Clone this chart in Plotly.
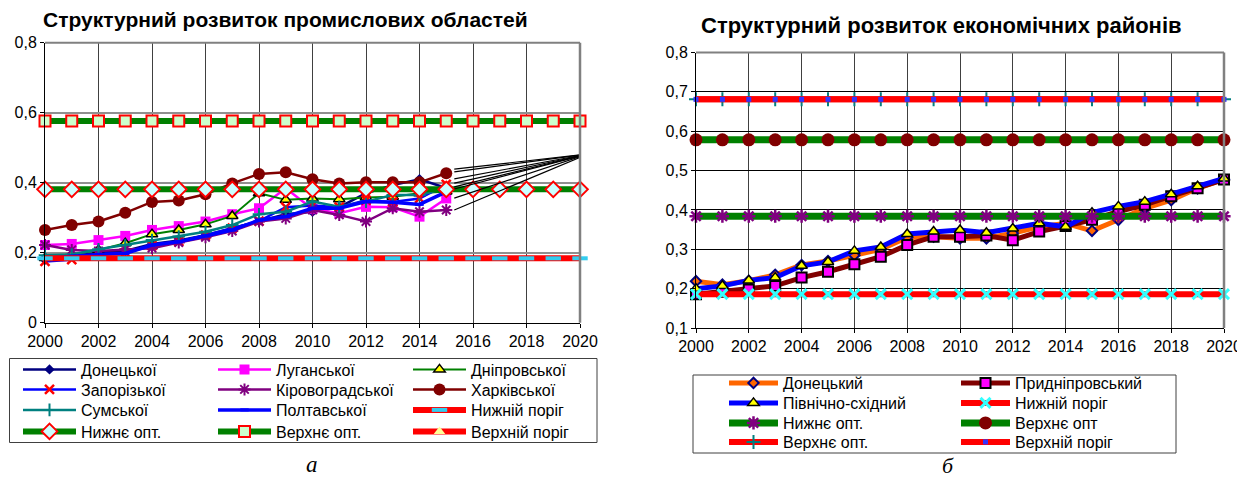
import plotly.graph_objects as go

# the page body adds an 8 px margin; keep the figure inside the window
OFF = 8
W, H = 1245 - OFF, 485 - 2 * OFF

# ---- left chart: industrial oblasts, fact 2000-2015 ----
years = list(range(2000, 2021))
years_fact = list(range(2000, 2016))

donetska = [0.18, 0.19, 0.20, 0.205, 0.225, 0.235, 0.25, 0.27, 0.29, 0.31, 0.317, 0.33, 0.37, 0.393, 0.41, 0.385]
luhanska = [0.222, 0.225, 0.236, 0.248, 0.265, 0.276, 0.289, 0.31, 0.327, 0.384, 0.325, 0.313, 0.331, 0.33, 0.303, 0.355]
dnipro = [0.185, 0.195, 0.208, 0.227, 0.253, 0.265, 0.281, 0.305, 0.37, 0.351, 0.355, 0.353, 0.358, 0.36, 0.37, 0.375]
zaporizka = [0.175, 0.18, 0.195, 0.20, 0.22, 0.232, 0.25, 0.27, 0.29, 0.33, 0.335, 0.33, 0.35, 0.345, 0.355, 0.395]
kirovohrad = [0.222, 0.208, 0.205, 0.21, 0.213, 0.229, 0.244, 0.262, 0.289, 0.298, 0.322, 0.308, 0.289, 0.327, 0.317, 0.322]
kharkiv = [0.265, 0.279, 0.289, 0.314, 0.345, 0.349, 0.367, 0.398, 0.425, 0.43, 0.41, 0.398, 0.401, 0.401, 0.401, 0.427]
sumy = [0.193, 0.195, 0.21, 0.222, 0.236, 0.246, 0.26, 0.279, 0.31, 0.317, 0.346, 0.331, 0.346, 0.365, 0.365, 0.384]
poltava = [0.184, 0.19, 0.195, 0.198, 0.222, 0.231, 0.248, 0.265, 0.293, 0.303, 0.327, 0.327, 0.346, 0.344, 0.338, 0.374]

a_low_thr = 0.184
a_low_opt = 0.381
a_up_opt = 0.576

# leader lines (label connectors) going off to the right
leader_x = [2015.3, 2020.3]
leader_from = [0.439, 0.431, 0.411, 0.399, 0.388, 0.382, 0.356, 0.322]
leader_to = 0.482

# ---- right chart: economic regions 2000-2020 ----
donetskyi = [0.219, 0.21, 0.22, 0.235, 0.26, 0.27, 0.285, 0.30, 0.33, 0.332, 0.328, 0.328, 0.341, 0.357, 0.366, 0.347, 0.375, 0.404, 0.425, 0.455, 0.478]
prydnipr = [0.186, 0.192, 0.198, 0.207, 0.228, 0.243, 0.262, 0.281, 0.311, 0.332, 0.332, 0.335, 0.323, 0.345, 0.359, 0.375, 0.396, 0.413, 0.435, 0.455, 0.477]
pivn_skh = [0.20, 0.207, 0.221, 0.228, 0.258, 0.268, 0.296, 0.306, 0.339, 0.345, 0.349, 0.342, 0.353, 0.366, 0.357, 0.393, 0.409, 0.421, 0.44, 0.46, 0.48]

b_low_thr = 0.186
b_low_opt = 0.384
b_up_opt = 0.578
b_up_opt2 = 0.681
b_up_thr = 0.681

FONT = "Liberation Sans, Arial, sans-serif"
SERIF = "Liberation Serif, Times New Roman, serif"


def px(x):
    return (x - OFF) / W


def py(y):
    return 1 - (y - OFF) / H


def flat(v, n):
    return [v] * n


fig = go.Figure()


def add(x, y, name, color, width, symbol, size, mcolor, mline_color=None, mline_w=0,
        xa="x", ya="y", legend="legend"):
    fig.add_trace(go.Scatter(
        x=x, y=y, name=name, mode="lines+markers", xaxis=xa, yaxis=ya,
        legend=legend, cliponaxis=False,
        line=dict(color=color, width=width),
        marker=dict(symbol=symbol, size=size, color=mcolor,
                    line=dict(color=mline_color or mcolor, width=mline_w))))


n = len(years)
# left chart, legend rows: legend .. legend4
add(years_fact, donetska, "Донецької", "#000080", 2.5, "diamond", 8, "#000080", legend="legend")
add(years_fact, luhanska, "Луганської", "#ff00ff", 2.5, "square", 10, "#ff00ff", legend="legend")
add(years_fact, dnipro, "Дніпровської", "#008000", 2, "triangle-up", 10, "#ffff00", "#000000", 1.5, legend="legend")
add(years_fact, zaporizka, "Запорізької", "#0000ff", 2.5, "x-thin-open", 9, "#ff0000", "#ff0000", 2.5, legend="legend2")
add(years_fact, kirovohrad, "Кіровоградської", "#800080", 2.5, "asterisk-open", 10, "#800080", "#800080", 2, legend="legend2")
add(years_fact, kharkiv, "Харківської", "#800000", 2.5, "circle", 12, "#800000", legend="legend2")
add(years_fact, sumy, "Сумської", "#008080", 2.5, "cross-thin-open", 9, "#008080", "#008080", 2, legend="legend3")
add(years_fact, poltava, "Полтавської", "#0000ff", 3.5, "line-ew-open", 6, "#0000ff", "#0000ff", 3, legend="legend3")
add(years, flat(a_low_thr, n), "Нижній поріг", "#ff0000", 6, "line-ew-open", 11, "#33ccee", "#33ccee", 4, legend="legend3")
add(years, flat(a_low_opt, n), "Нижнє опт.", "#008000", 6, "diamond", 12, "#ccffff", "#ff0000", 2, legend="legend4")
add(years, flat(a_up_opt, n), "Верхнє опт.", "#008000", 6, "square", 11, "#ccffcc", "#ff0000", 2, legend="legend4")
add(years, [None] * n, "Верхній поріг", "#ff0000", 6, "triangle-up", 10, "#ffff99", legend="legend4")

lx, ly = [], []
for v in leader_from:
    lx += leader_x + [None]
    ly += [v, leader_to, None]
fig.add_trace(go.Scatter(x=lx, y=ly, mode="lines", showlegend=False, cliponaxis=False,
                         line=dict(color="#000000", width=1.2)))

# right chart, legend rows: legend5 .. legend8
R = dict(xa="x2", ya="y2")
add(years, donetskyi, "Донецький", "#ff6600", 5, "diamond", 8, "#ff6600", "#000080", 2, legend="legend5", **R)
add(years, prydnipr, "Придніпровський", "#800000", 5, "square", 10, "#ff00ff", "#000000", 2, legend="legend5", **R)
add(years, pivn_skh, "Північно-східний", "#0000ff", 5, "triangle-up", 10, "#ffff00", "#000000", 1.5, legend="legend6", **R)
add(years, flat(b_low_thr, n), "Нижній поріг", "#ff0000", 6, "x-thin-open", 10, "#33ffff", "#33ffff", 3, legend="legend6", **R)
add(years, flat(b_low_opt, n), "Нижнє опт.", "#008000", 7, "asterisk-open", 11, "#800080", "#800080", 2.5, legend="legend7", **R)
add(years, flat(b_up_opt, n), "Верхнє опт", "#008000", 7, "circle", 13, "#800000", legend="legend7", **R)
add(years, flat(b_up_opt2, n), "Верхнє опт.", "#ff0000", 6, "cross-thin-open", 10, "#008080", "#008080", 2, legend="legend8", **R)
add(years, flat(b_up_thr, n), "Верхній поріг", "#ff0000", 6, "square", 5, "#3333ff", legend="legend8", **R)

ax_common = dict(showline=True, linecolor="#000000", linewidth=1, ticks="outside", ticklen=4,
                 tickcolor="#000000", tickfont=dict(family=FONT, size=16, color="#000000"),
                 ticklabeloverflow="allow", zeroline=False)

fig.update_layout(
    width=W, height=H, margin=dict(l=0, r=0, t=0, b=0, autoexpand=False),
    paper_bgcolor="white", plot_bgcolor="white", separators=", ",
    font=dict(family=FONT, size=16, color="#000000"),
    xaxis=dict(domain=[px(45), px(580)], range=[2000, 2020], dtick=2, anchor="y",
               showgrid=True, gridcolor="#404040", gridwidth=1, **ax_common),
    yaxis=dict(domain=[py(322.7), py(42.7)], range=[0, 0.8], dtick=0.2, anchor="x",
               showgrid=True, gridcolor="#909090", gridwidth=2, **ax_common),
    xaxis2=dict(domain=[px(696), px(1224)], range=[2000, 2020], dtick=2, anchor="y2",
                showgrid=True, gridcolor="#404040", gridwidth=1, **ax_common),
    yaxis2=dict(domain=[py(328), py(52.5)], range=[0.1, 0.8], dtick=0.1, anchor="x2",
                showgrid=True, gridcolor="#000000", gridwidth=1, **ax_common),
)

# one horizontal legend per row, so the rows keep the reference's columns
left_rows = [369.5, 389.5, 410, 431.5]
right_rows = [383, 403, 423, 442]
for i, yc in enumerate(left_rows + right_rows):
    key = "legend" if i == 0 else "legend%d" % (i + 1)
    left = i < 4
    fig.update_layout({key: dict(
        orientation="h", x=px(18 if left else 724), y=py(yc),
        xanchor="left", yanchor="middle",
        entrywidth=127 if left else 168, entrywidthmode="pixels",
        itemwidth=53 if left else 49, font=dict(family=FONT, size=16),
        bgcolor="rgba(0,0,0,0)", borderwidth=0)})

# plot-area frame (grey top / right) and legend boxes
for xr, yr in (("x domain", "y domain"), ("x2 domain", "y2 domain")):
    fig.add_shape(type="line", xref=xr, yref=yr, x0=0, x1=1, y0=1, y1=1,
                  line=dict(color="#808080", width=2))
    fig.add_shape(type="line", xref=xr, yref=yr, x0=1, x1=1, y0=0, y1=1,
                  line=dict(color="#808080", width=2.5))
fig.add_shape(type="rect", xref="paper", yref="paper", x0=px(9.5), x1=px(597),
              y0=py(442.5), y1=py(358.5), line=dict(color="#404040", width=1))
fig.add_shape(type="rect", xref="paper", yref="paper", x0=px(693), x1=px(1176),
              y0=py(453), y1=py(375), line=dict(color="#404040", width=1))

fig.add_annotation(text="<b>Структурний розвиток промислових областей</b>", xref="paper", yref="paper",
                   x=px(41), y=py(19), xanchor="left", yanchor="middle", showarrow=False,
                   font=dict(family=FONT, size=21))
fig.add_annotation(text="<b>Структурний розвиток економічних районів</b>", xref="paper", yref="paper",
                   x=px(699), y=py(26), xanchor="left", yanchor="middle", showarrow=False,
                   font=dict(family=FONT, size=22))
fig.add_annotation(text="<i>а</i>", xref="paper", yref="paper", x=px(312), y=py(464),
                   xanchor="center", yanchor="middle", showarrow=False,
                   font=dict(family=SERIF, size=23))
fig.add_annotation(text="<i>б</i>", xref="paper", yref="paper", x=px(948), y=py(465),
                   xanchor="center", yanchor="middle", showarrow=False,
                   font=dict(family=SERIF, size=22))

fig.write_html("out.html")
